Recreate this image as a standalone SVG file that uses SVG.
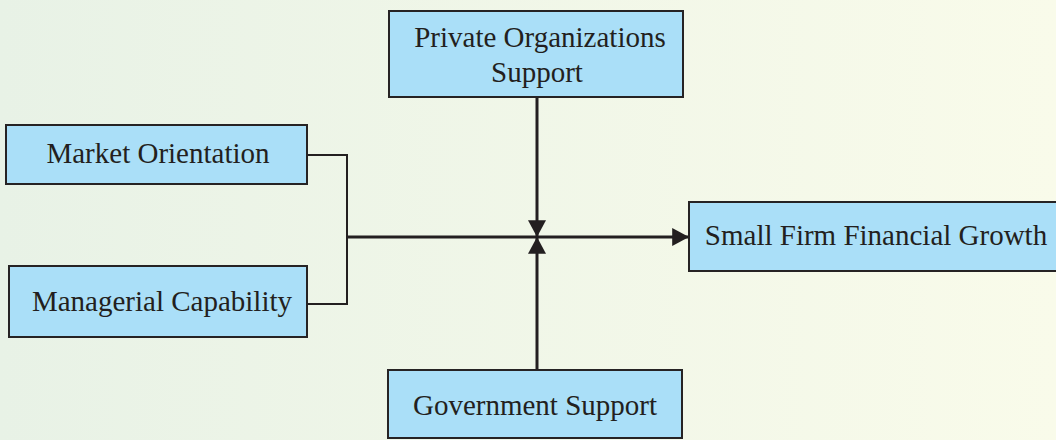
<svg xmlns="http://www.w3.org/2000/svg" width="1056" height="440" viewBox="0 0 1056 440">
  <defs>
    <linearGradient id="bg" x1="0" y1="0" x2="1" y2="0">
      <stop offset="0" stop-color="#e8f2e6"/>
      <stop offset="1" stop-color="#f9fbea"/>
    </linearGradient>
    <marker id="arrow" markerWidth="6" markerHeight="6" refX="5.6" refY="3" orient="auto" markerUnits="strokeWidth">
      <path d="M0,0 L5.6,3 L0,6 Z" fill="#231f20"/>
    </marker>
    <style>
      .box { fill: #aadff8; stroke: #262324; stroke-width: 2; }
      .label { font-size: 29px; fill: #231f20; text-anchor: middle; }
      .thin { fill: none; stroke: #231f20; stroke-width: 2; }
      .thick { fill: none; stroke: #231f20; stroke-width: 3; }
    </style>
  </defs>

  <rect x="0" y="0" width="1056" height="440" fill="url(#bg)"/>

  <g id="connectors">
    <!-- bracket joining the two left-hand factors -->
    <polyline class="thin" points="307,155 347,155 347,304 307,304"/>
    <!-- main path into the outcome -->
    <line class="thick" x1="347" y1="237" x2="689" y2="237" marker-end="url(#arrow)"/>
    <!-- moderators from above and below -->
    <line class="thick" x1="537" y1="97" x2="537" y2="237" marker-end="url(#arrow)"/>
    <line class="thick" x1="537" y1="371" x2="537" y2="237" marker-end="url(#arrow)"/>
  </g>

  <g font-family="'Liberation Serif', 'Times New Roman', serif">
    <g id="private-organizations-support">
      <rect class="box" x="389" y="11" width="294" height="86"/>
      <text class="label" x="540" y="47">Private Organizations</text>
      <text class="label" x="537" y="82">Support</text>
    </g>

    <g id="market-orientation">
      <rect class="box" x="6" y="125" width="301" height="59"/>
      <text class="label" x="158" y="163">Market Orientation</text>
    </g>

    <g id="managerial-capability">
      <rect class="box" x="9" y="266" width="298" height="71"/>
      <text class="label" x="162" y="311">Managerial Capability</text>
    </g>

    <g id="small-firm-financial-growth">
      <rect class="box" x="689" y="202" width="372" height="69"/>
      <text class="label" x="876" y="245">Small Firm Financial Growth</text>
    </g>

    <g id="government-support">
      <rect class="box" x="388" y="370" width="294" height="68"/>
      <text class="label" x="535" y="415">Government Support</text>
    </g>
  </g>
</svg>
